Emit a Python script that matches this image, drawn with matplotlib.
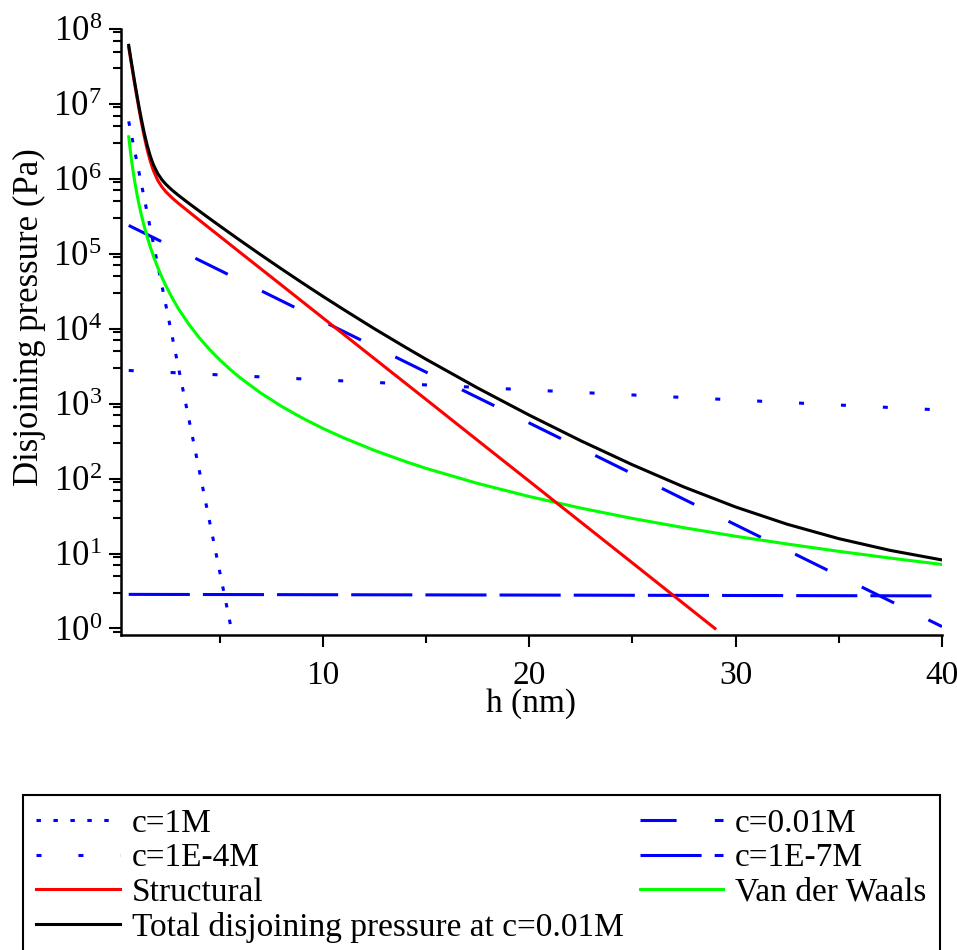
import matplotlib
matplotlib.use('Agg')
import matplotlib.pyplot as plt
from matplotlib.ticker import LogLocator, FixedLocator, MultipleLocator, NullFormatter, FixedFormatter

plt.rcParams['font.family'] = ['Liberation Serif', 'DejaVu Serif']
plt.rcParams['lines.scale_dashes'] = False

# ---------------- data ----------------
h_main = [0.6, 0.7, 0.8, 0.9, 1.0, 1.1, 1.2, 1.35, 1.5, 1.65, 1.8, 2.0, 2.2,
          2.4, 2.7, 3.0, 3.5, 4.0, 4.5, 5.0, 5.5, 6.0, 7.0, 8.0, 9.0, 10.0,
          11.0, 12.5, 14.0, 15.0, 17.5, 20.0, 22.5, 25.0, 27.5, 30.0, 32.5,
          35.0, 37.5, 40.0]
vdw = [3.64e6, 2.10e6, 1.325e6, 8.88e5, 6.23e5, 4.54e5, 3.41e5, 2.33e5,
       1.656e5, 1.22e5, 9.25e4, 6.63e4, 4.91e4, 3.74e4, 2.59e4, 1.86e4,
       1.16e4, 7.66e3, 5335, 3864, 2885, 2212, 1383, 922, 645, 468, 351,
       238, 169, 137, 86.3, 57.7, 40.4, 29.4, 22.1, 17.0, 13.4, 10.7, 8.69,
       7.15]
total = [6.05e7, 4.05e7, 2.74e7, 1.87e7, 1.30e7, 9.10e6, 6.51e6, 4.11e6,
         2.77e6, 1.99e6, 1.535e6, 1.183e6, 9.79e5, 8.46e5, 7.07e5, 6.05e5,
         4.74e5, 3.75e5, 2.973e5, 2.365e5, 1.886e5, 1.506e5, 9.68e4, 6.28e4,
         4.11e4, 2.71e4, 1.81e4, 1.00e4, 5670, 3920, 1620, 704, 320, 153,
         77.2, 41.8, 24.6, 15.8, 11.0, 8.21]

h_struct = [0.6, 0.7, 0.8, 0.9, 1.0, 1.1, 1.2, 1.35, 1.5, 1.65, 1.8, 2.0,
            2.2, 2.4, 2.7, 3.0, 3.5, 4.0, 5.0, 6.0, 8.0, 10.0, 12.5, 15.0,
            17.5, 20.0, 25.0, 29.0]
structural = [5.67e7, 3.82e7, 2.585e7, 1.76e7, 1.21e7, 8.44e6, 5.97e6,
              3.69e6, 2.42e6, 1.70e6, 1.278e6, 9.62e5, 7.85e5, 6.72e5,
              5.57e5, 4.73e5, 3.66e5, 2.84e5, 1.72e5, 1.04e5, 3.82e4, 1.40e4,
              3.99e3, 1.14e3, 324, 92.5, 7.5, 1.0]

h_c1M = [0.6, 2.0, 4.0, 5.59]
p_c1M = [5.84e6, 7.21e4, 135.5, 0.923]

h_c1e4 = [0.6, 10.0, 20.0, 30.0, 40.0]
p_c1e4 = [2773, 2075, 1524, 1119, 822]

h_c001 = [0.6, 5.0, 10.0, 15.0, 20.0, 25.0, 30.0, 35.0, 40.0]
p_c001 = [2.39e5, 6.04e4, 1.26e4, 2.64e3, 553, 116, 24.2, 5.06, 1.06]

h_c1e7 = [0.6, 20.0, 40.0]
p_c1e7 = [2.85, 2.79, 2.72]

x_major = [10, 20, 30, 40]
x_major_labels = ['10', '20', '30', '40']
y_decades = [0, 1, 2, 3, 4, 5, 6, 7, 8]
y_labels = [r'$\mathregular{10^{%d}}$' % d for d in y_decades]

legend_labels = ['c=1M', 'c=1E-4M', 'Structural',
                 'Total disjoining pressure at c=0.01M',
                 'c=0.01M', 'c=1E-7M', 'Van der Waals']

# ---------------- figure ----------------
fig = plt.figure(figsize=(9.57, 9.5), dpi=100)
ax = fig.add_axes([0.1261, 0.3316, 0.8582, 0.6379])

FS_YTICK = 25
FS_XTICK = 24
FS_LAB = 24
FS_YLAB = 25
FS_LEG = 24
LW = 2.2
blue = '#0000ff'

l1, = ax.plot(h_c1M, p_c1M, color=blue, lw=LW, dashes=(3.2, 9.0),
              dash_capstyle='butt')
l2, = ax.plot(h_c1e4, p_c1e4, color=blue, lw=LW, dashes=(3.6, 26.6),
              dash_capstyle='butt')
l5, = ax.plot(h_c001, p_c001, color=blue, lw=LW, dashes=(26.0, 27.5),
              dash_capstyle='butt')
l6, = ax.plot(h_c1e7, p_c1e7, color=blue, lw=LW, dashes=(44.0, 9.4),
              dash_capstyle='butt')
l7, = ax.plot(h_main, vdw, color='#00ff00', lw=LW)
l3, = ax.plot(h_struct, structural, color='#ff0000', lw=LW)
l4, = ax.plot(h_main, total, color='black', lw=LW)

ax.set_yscale('log')
ax.set_xlim(0.21, 40)
ax.set_ylim(10 ** -0.087, 1e8)

for s in ['top', 'right']:
    ax.spines[s].set_visible(False)
for s in ['left', 'bottom']:
    ax.spines[s].set_linewidth(1.8)

ax.xaxis.set_major_locator(FixedLocator(x_major))
ax.xaxis.set_major_formatter(FixedFormatter(x_major_labels))
ax.xaxis.set_minor_locator(MultipleLocator(5))
ax.yaxis.set_major_locator(FixedLocator([10.0 ** d for d in y_decades]))
ax.yaxis.set_major_formatter(FixedFormatter(y_labels))
ax.yaxis.set_minor_locator(LogLocator(base=10, subs=(3, 5, 7, 9), numticks=50))
ax.yaxis.set_minor_formatter(NullFormatter())

ax.tick_params(which='major', direction='out', length=8.6, width=1.5, pad=5)
ax.tick_params(which='minor', direction='out', length=5.6, width=1.5)
ax.tick_params(axis='y', which='major', labelsize=FS_YTICK)
ax.tick_params(axis='x', which='major', pad=10, labelsize=FS_XTICK)

ax.set_xlabel('h (nm)', fontsize=FS_LAB, labelpad=-2)
ax.set_ylabel('Disjoining pressure (Pa)', fontsize=FS_YLAB)
ax.yaxis.set_label_coords(-0.091, 0.525)

handles = [l1, l2, l3, l4, l5, l6, l7]
leg = fig.legend(handles, legend_labels, loc='upper left',
                 bbox_to_anchor=(0.024, 0.163, 0.958, 0.0), mode='expand',
                 ncol=2, fontsize=FS_LEG,
                 frameon=True, fancybox=False, framealpha=1,
                 edgecolor='black', borderaxespad=0, borderpad=0.4,
                 handlelength=2.5, handletextpad=0.36, labelspacing=0.12,
                 columnspacing=0.8)
leg.get_frame().set_linewidth(1.5)

fig.savefig('out.png', dpi=100)
